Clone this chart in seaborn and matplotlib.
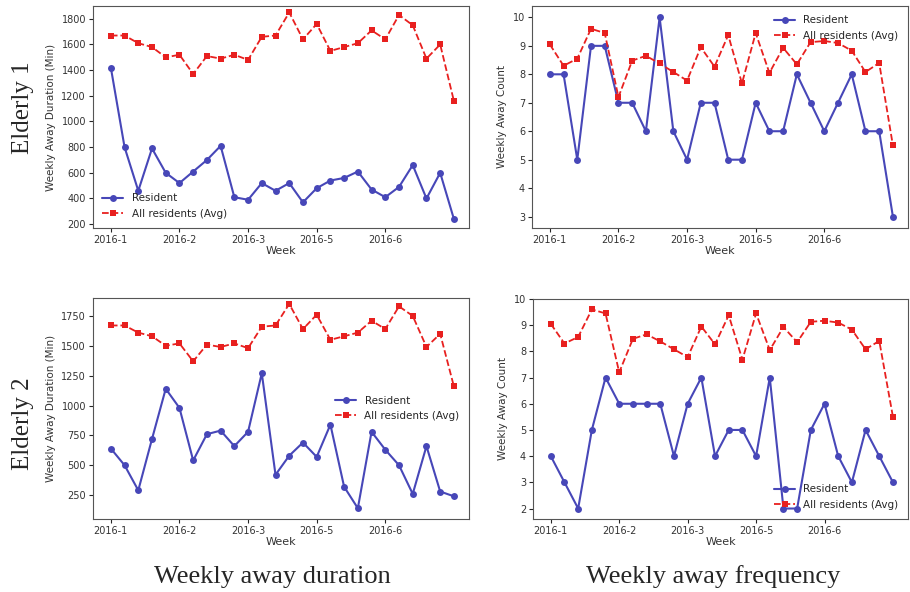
import pandas as pd
import seaborn as sns
import matplotlib.pyplot as plt

sns.set_style("white")
plt.rcParams['font.family'] = ['DejaVu Sans']

# x 轴: 26 周
weeks = list(range(26))
tick_pos = [0, 5, 10, 15, 20]
tick_labels = ['2016-1', '2016-2', '2016-3', '2016-5', '2016-6']

# 所有住户平均值
avg_duration = [1670, 1670, 1610, 1580, 1500, 1520, 1370, 1510, 1490, 1520, 1480, 1660, 1670,
                1850, 1640, 1760, 1550, 1580, 1610, 1710, 1640, 1830, 1750, 1490, 1600, 1160]
avg_count = [9.05, 8.3, 8.55, 9.6, 9.45, 7.2, 8.48, 8.65, 8.38, 8.08, 7.78, 8.95, 8.27,
             9.38, 7.68, 9.45, 8.05, 8.93, 8.35, 9.13, 9.17, 9.1, 8.83, 8.08, 8.4, 5.5]

# Elderly 1
e1_duration = [1420, 800, 460, 790, 600, 520, 610, 700, 810, 410, 390, 520, 460,
               520, 370, 480, 540, 560, 610, 470, 410, 490, 660, 400, 600, 240]
e1_count = [8, 8, 5, 9, 9, 7, 7, 6, 10, 6, 5, 7, 7, 5, 5, 7, 6, 6, 8, 7, 6, 7, 8, 6, 6, 3]

# Elderly 2
e2_duration = [640, 500, 290, 720, 1140, 980, 540, 760, 790, 660, 780, 1270, 420,
               580, 690, 570, 840, 320, 140, 780, 630, 500, 260, 660, 280, 240]
e2_count = [4, 3, 2, 5, 7, 6, 6, 6, 6, 4, 6, 7, 4, 5, 5, 4, 7, 2, 2, 5, 6, 4, 3, 5, 4, 3]

blue = '#4747b8'
red = '#e8201f'

fig = plt.figure(figsize=(9.1, 5.92), dpi=100)

# 各子图位置 (像素)
W, H = 910, 592
boxes = [(93, 6, 469, 228), (532, 6, 908, 228), (93, 298, 469, 519), (533, 299, 908, 519)]
axes = [fig.add_axes([l / W, 1 - b / H, (r - l) / W, (b - t) / H]) for l, t, r, b in boxes]

panels = [
    (e1_duration, avg_duration, 'Weekly Away Duration (Min)', 'lower left', range(200, 1801, 200)),
    (e1_count, avg_count, 'Weekly Away Count', 'upper right', range(3, 11)),
    (e2_duration, avg_duration, 'Weekly Away Duration (Min)', 'center right', range(250, 1751, 250)),
    (e2_count, avg_count, 'Weekly Away Count', 'lower right', range(2, 11)),
]

for ax, (res, avg, ylabel, loc, yticks) in zip(axes, panels):
    df = pd.DataFrame({'week': weeks, 'res': res, 'avg': avg})
    sns.lineplot(data=df, x='week', y='res', ax=ax, color=blue, marker='o', markersize=5,
                 markeredgewidth=0, linewidth=1.5, label='Resident')
    sns.lineplot(data=df, x='week', y='avg', ax=ax, color=red, marker='s', markersize=5,
                 markeredgewidth=0, linewidth=1.3, linestyle='--', label='All residents (Avg)')
    ax.set_xticks(tick_pos)
    ax.set_xticklabels(tick_labels)
    ax.set_yticks(list(yticks))
    ax.tick_params(labelsize=7, length=3, left=True, bottom=True, pad=2, labelcolor='#333333')
    ax.set_xlabel('Week', fontsize=8, labelpad=1, color='#333333')
    ax.set_ylabel(ylabel, fontsize=7.5, color='#333333')
    ax.set_xlim(-1.3, 26.1)
    for s in ax.spines.values():
        s.set_color('#555555')
        s.set_linewidth(0.8)
    ax.legend(loc=loc, frameon=False, fontsize=7.5)

axes[0].set_ylim(170, 1900)
axes[1].set_ylim(2.6, 10.4)
axes[2].set_ylim(50, 1900)
axes[3].set_ylim(1.6, 10.0)

serif = ['Liberation Serif', 'DejaVu Serif']
fig.text(23 / W, 1 - 108 / H, 'Elderly 1', rotation=90, ha='center', va='center',
         fontsize=18, family=serif)
fig.text(23 / W, 1 - 424 / H, 'Elderly 2', rotation=90, ha='center', va='center',
         fontsize=18, family=serif)
fig.text(272 / W, 1 - 577 / H, 'Weekly away duration', ha='center', va='center',
         fontsize=19, family=serif)
fig.text(713 / W, 1 - 577 / H, 'Weekly away frequency', ha='center', va='center',
         fontsize=19, family=serif)

fig.savefig('out.png', dpi=100)
